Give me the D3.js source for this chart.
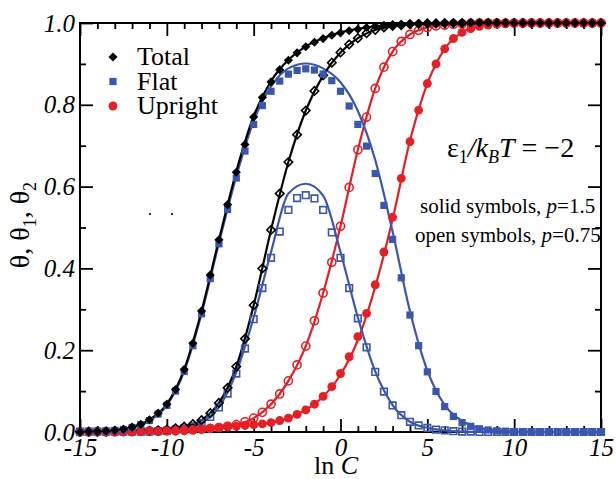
<!DOCTYPE html>
<html>
<head>
<meta charset="utf-8">
<script src="https://cdn.jsdelivr.net/npm/d3@7"></script>
</head>
<body style="margin:0">
<script>
// ln C values of the simulation points (step 0.5)
var lnC = [-15,-14.5,-14,-13.5,-13,-12.5,-12,-11.5,-11,-10.5,-10,-9.5,-9,-8.5,-8,-7.5,-7,-6.5,-6,-5.5,
  -5,-4.5,-4,-3.5,-3,-2.5,-2,-1.5,-1,-0.5,0,0.5,1,1.5,2,2.5,3,3.5,4,4.5,
  5,5.5,6,6.5,7,7.5,8,8.5,9,9.5,10,10.5,11,11.5,12,12.5,13,13.5,14,14.5,15];

// solid symbols, p=1.5
var totalSolid = [0.000,0.001,0.001,0.002,0.004,0.007,0.012,0.019,0.030,0.046,
  0.068,0.104,0.153,0.217,0.296,0.384,0.470,0.556,0.635,0.703,
  0.770,0.818,0.856,0.886,0.909,0.927,0.942,0.953,0.962,0.970,
  0.976,0.981,0.985,0.989,0.992,0.994,0.996,0.997,0.998,0.998,
  0.999,0.999,0.999,1,1,1,1,1,1,1,1,1,1,1,1,1,1,1,1,1,1];
var flatSolid = [0.000,0.001,0.001,0.002,0.004,0.006,0.011,0.018,0.028,0.044,
  0.065,0.100,0.148,0.211,0.289,0.375,0.460,0.544,0.621,0.687,
  0.752,0.798,0.833,0.858,0.875,0.884,0.888,0.885,0.875,0.859,
  0.833,0.797,0.752,0.699,0.632,0.554,0.471,0.377,0.286,0.211,
  0.147,0.099,0.062,0.038,0.023,0.014,0.008,0.005,0.003,0.002,
  0.001,0.001,0,0,0,0,0,0,0,0,0];
var uprightSolid = [0,0,0,0,0,0.001,0.001,0.001,0.002,0.002,
  0.003,0.004,0.005,0.006,0.007,0.009,0.010,0.012,0.014,0.016,
  0.018,0.020,0.023,0.028,0.034,0.043,0.054,0.068,0.087,0.111,
  0.143,0.184,0.233,0.290,0.360,0.440,0.525,0.620,0.710,0.787,
  0.852,0.900,0.937,0.962,0.977,0.986,0.992,0.995,0.997,0.998,
  0.999,0.999,1,1,1,1,1,1,1,1,1];

// open symbols, p=0.75
var totalOpen = [0.001,0.001,0.001,0.001,0.002,0.002,0.002,0.003,0.003,0.004,
  0.006,0.009,0.013,0.019,0.029,0.046,0.071,0.108,0.160,0.228,
  0.310,0.400,0.494,0.583,0.660,0.727,0.786,0.834,0.872,0.903,
  0.928,0.948,0.963,0.975,0.983,0.989,0.993,0.995,0.997,0.998,
  0.999,0.999,1,1,1,1,1,1,1,1,1,1,1,1,1,1,1,1,1,1,1];
var flatOpen = [0.001,0.001,0.001,0.001,0.001,0.001,0.001,0.001,0.001,0.002,
  0.003,0.006,0.009,0.014,0.022,0.037,0.060,0.094,0.143,0.204,
  0.276,0.352,0.426,0.490,0.543,0.572,0.579,0.571,0.543,0.488,
  0.426,0.352,0.278,0.207,0.147,0.099,0.065,0.041,0.025,0.016,
  0.010,0.006,0.004,0.002,0.001,0.001,0,0,0,0,0,0,0,0,0,0,0,0,0,0,0];
var uprightOpen = [0,0,0.001,0.001,0.001,0.001,0.001,0.002,0.002,0.002,
  0.003,0.003,0.004,0.005,0.007,0.009,0.011,0.014,0.018,0.025,
  0.034,0.048,0.068,0.093,0.125,0.164,0.210,0.272,0.340,0.415,
  0.503,0.598,0.690,0.770,0.840,0.892,0.930,0.955,0.972,0.982,
  0.989,0.993,0.995,0.997,0.998,0.999,1,1,1,1,1,1,1,1,1,1,1,1,1,1,1];

// theory curves (step 1)
var lnCLine = [-15,-14,-13,-12,-11,-10,-9,-8,-7,-6,-5,-4,-3,-2,-1,0,1,2,3,4,5,6,7,8,9,10,11,12,13,14,15];
var totalSolidLine = [0,0.001,0.004,0.012,0.030,0.068,0.153,0.296,0.470,0.637,0.772,0.858,0.910,0.943,0.963,
  0.977,0.986,0.992,0.996,0.998,0.999,1,1,1,1,1,1,1,1,1,1];
var flatSolidLine = [0,0.001,0.004,0.011,0.028,0.065,0.148,0.289,0.462,0.625,0.760,0.845,0.889,0.901,0.889,
  0.855,0.785,0.665,0.490,0.295,0.150,0.066,0.027,0.010,0.004,0.001,0,0,0,0,0];
var uprightSolidLine = [0,0,0,0.001,0.002,0.003,0.005,0.007,0.010,0.014,0.018,0.023,0.034,0.054,0.087,
  0.140,0.225,0.355,0.520,0.712,0.852,0.937,0.977,0.992,0.997,0.999,1,1,1,1,1];
var totalOpenLine = [0.001,0.001,0.002,0.002,0.003,0.006,0.013,0.029,0.071,0.160,0.310,0.494,0.660,0.786,0.872,
  0.928,0.963,0.983,0.993,0.997,0.999,1,1,1,1,1,1,1,1,1,1];
var flatOpenLine = [0.001,0.001,0.001,0.001,0.001,0.003,0.009,0.022,0.061,0.146,0.280,0.440,0.583,0.607,0.578,
  0.440,0.280,0.148,0.066,0.025,0.010,0.004,0.001,0,0,0,0,0,0,0,0];
var uprightOpenLine = [0,0.001,0.001,0.001,0.002,0.003,0.004,0.007,0.011,0.018,0.034,0.068,0.125,0.210,0.340,
  0.503,0.690,0.840,0.930,0.972,0.989,0.995,0.998,1,1,1,1,1,1,1,1];

var xMajor = [-15,-10,-5,0,5,10,15];
var xMinor = [-14,-13,-12,-11,-9,-8,-7,-6,-4,-3,-2,-1,1,2,3,4,6,7,8,9,11,12,13,14];
var yMajor = [0,0.2,0.4,0.6,0.8,1.0];
var yMinor = [0.1,0.3,0.5,0.7,0.9];

var black = "#000", blue = "#3b56ae", red = "#e41f26";
var FONT = "'Liberation Serif'";

var svg = d3.select("body").append("svg").attr("width", 616).attr("height", 479);

var x = d3.scaleLinear().domain([-15, 15]).range([80, 601]);
var y = d3.scaleLinear().domain([0, 1]).range([432, 23]);

// plain text helper: serif face set inline when the text is made
function label(parent, px, py, size){
  return parent.append("text").attr("x", px).attr("y", py)
    .attr("font-size", size).style("font-family", FONT).attr("fill", "#000");
}

// ---- axes, all ticks point inward ----
function ticks(g){
  g.attr("font-family", null).attr("font-size", null);
  g.select(".domain").remove();
  g.selectAll(".tick line").attr("stroke", "#000").attr("stroke-width", 1.8);
  g.selectAll(".tick text").attr("fill", "#000").attr("font-size", 25)
    .style("font-family", FONT).style("font-style", "italic");
}
svg.append("g").attr("transform", "translate(0,432)")
  .call(d3.axisBottom(x).tickValues(xMajor).tickSize(-13).tickPadding(6).tickFormat(d => String(d)))
  .call(ticks);
svg.append("g").attr("transform", "translate(0,432)")
  .call(d3.axisBottom(x).tickValues(xMinor).tickSize(-6).tickFormat(""))
  .call(ticks);
svg.append("g").attr("transform", "translate(0,23)")
  .call(d3.axisTop(x).tickValues(xMajor).tickSize(-13).tickFormat(""))
  .call(ticks);
svg.append("g").attr("transform", "translate(0,23)")
  .call(d3.axisTop(x).tickValues(xMinor).tickSize(-6).tickFormat(""))
  .call(ticks);
svg.append("g").attr("transform", "translate(80,0)")
  .call(d3.axisLeft(y).tickValues(yMajor).tickSize(-13).tickPadding(5).tickFormat(d3.format(".1f")))
  .call(ticks);
svg.append("g").attr("transform", "translate(80,0)")
  .call(d3.axisLeft(y).tickValues(yMinor).tickSize(-6).tickFormat(""))
  .call(ticks);
svg.append("g").attr("transform", "translate(601,0)")
  .call(d3.axisRight(y).tickValues(yMajor).tickSize(-13).tickFormat(""))
  .call(ticks);
svg.append("g").attr("transform", "translate(601,0)")
  .call(d3.axisRight(y).tickValues(yMinor).tickSize(-6).tickFormat(""))
  .call(ticks);

svg.append("rect").attr("x", 80).attr("y", 23).attr("width", 521).attr("height", 409)
  .attr("fill", "none").attr("stroke", "#000").attr("stroke-width", 2);

// ---- theory curves ----
var line = d3.line()
  .x((d, i) => x(lnCLine[i]))
  .y(d => y(d))
  .curve(d3.curveMonotoneX);

var curves = [
  [uprightOpenLine, red], [uprightSolidLine, red],
  [flatOpenLine, blue], [flatSolidLine, blue],
  [totalOpenLine, black], [totalSolidLine, black]
];
curves.forEach(function(c){
  svg.append("path").datum(c[0]).attr("d", line)
    .attr("fill", "none").attr("stroke", c[1]).attr("stroke-width", 2.2);
});

// ---- symbols ----
var diamond = d3.symbol(d3.symbolSquare, 42)();
var square = d3.symbol(d3.symbolSquare, 52)();
var circle = d3.symbol(d3.symbolCircle, 62)();
var circleOpen = d3.symbol(d3.symbolCircle, 52)();
var squareOpen = d3.symbol(d3.symbolSquare, 44)();
var diamondOpen = d3.symbol(d3.symbolSquare, 36)();

function points(vals, path, color, filled, rot){
  svg.append("g").selectAll("path").data(vals).join("path")
    .attr("d", path)
    .attr("transform", (d, i) => "translate(" + x(lnC[i]) + "," + y(d) + ")" + (rot ? " rotate(45)" : ""))
    .attr("fill", filled ? color : "none")
    .attr("stroke", filled ? "none" : color)
    .attr("stroke-width", filled ? 0 : 1.6);
}
points(uprightOpen, circleOpen, red, false);
points(flatOpen, squareOpen, blue, false);
points(totalOpen, diamondOpen, black, false, true);
points(uprightSolid, circle, red, true);
points(flatSolid, square, blue, true);
points(totalSolid, diamond, black, true, true);

// ---- legend ----
var legend = [["Total", diamond, black, true], ["Flat", square, blue, false], ["Upright", circle, red, false]];
legend.forEach(function(l, i){
  var cy = 57 + i * 24.5;
  svg.append("path").attr("d", l[1])
    .attr("transform", "translate(113," + cy + ")" + (l[3] ? " rotate(45)" : ""))
    .attr("fill", l[2]);
  label(svg, 137, cy + 8, 26).text(l[0]);
});

// stray dots of the original
svg.append("circle").attr("cx", 150).attr("cy", 214).attr("r", 1.1).attr("fill", "#000");
svg.append("circle").attr("cx", 172).attr("cy", 214).attr("r", 1.1).attr("fill", "#000");

// ---- axis titles ----
var xt = label(svg, 336, 474, 26).attr("text-anchor", "middle");
xt.append("tspan").text("ln ");
xt.append("tspan").style("font-style", "italic").text("C");

var yt = label(svg, 0, 0, 28).attr("transform", "translate(29,225) rotate(-90)").attr("text-anchor", "middle");
yt.append("tspan").text("θ, θ");
yt.append("tspan").attr("dy", 7).attr("font-size", 18).text("1");
yt.append("tspan").attr("dy", -7).text(", θ");
yt.append("tspan").attr("dy", 7).attr("font-size", 18).text("2");

// ---- annotations ----
var eq = label(svg, 447, 157, 28);
eq.append("tspan").text("ε");
eq.append("tspan").attr("dy", 6).attr("font-size", 18).text("1");
eq.append("tspan").attr("dy", -6).style("font-style", "italic").text("/k");
eq.append("tspan").attr("dy", 6).attr("font-size", 18).style("font-style", "italic").text("B");
eq.append("tspan").attr("dy", -6).style("font-style", "italic").text("T");
eq.append("tspan").text(" = −2");

var s1 = label(svg, 420, 213, 21);
s1.append("tspan").text("solid symbols, ");
s1.append("tspan").style("font-style", "italic").text("p");
s1.append("tspan").text("=1.5");

var s2 = label(svg, 415, 242, 21);
s2.append("tspan").text("open symbols, ");
s2.append("tspan").style("font-style", "italic").text("p");
s2.append("tspan").text("=0.75");
</script>
</body>
</html>
